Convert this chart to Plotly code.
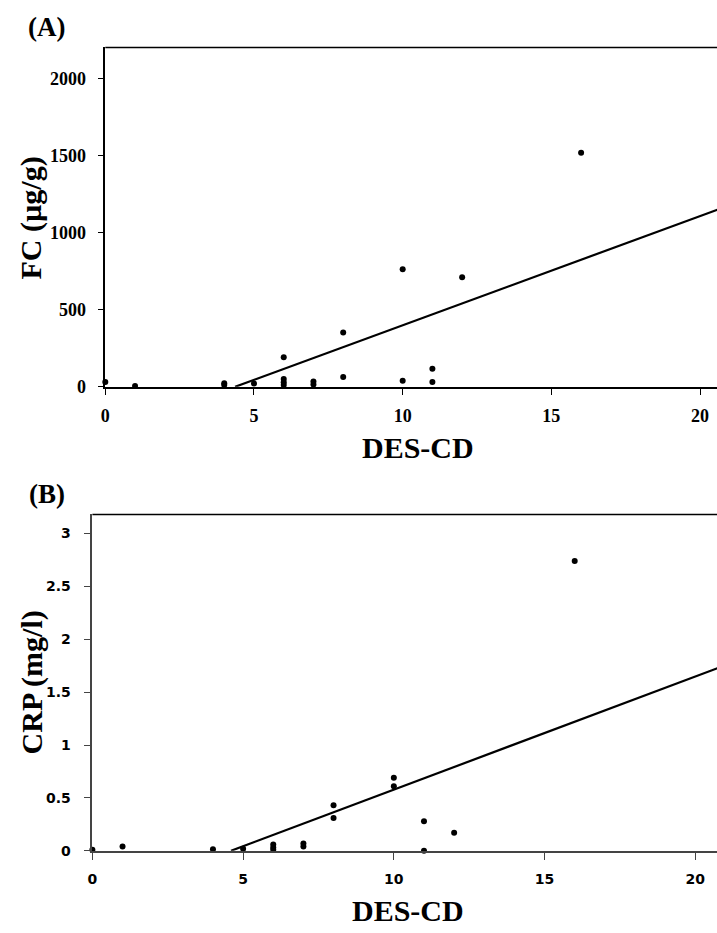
import plotly.graph_objects as go

# Panel A: DES-CD vs FC (µg/g)
a_x = [0, 1, 4, 4, 5, 6, 6, 6, 6, 7, 7, 8, 8, 10, 10, 11, 11, 12, 16]
a_y = [32, 5, 23, 12, 22, 192, 50, 30, 12, 35, 15, 352, 64, 763, 40, 117, 32, 711, 1517]
a_slope, a_intercept = 70.8, -309.0

# Panel B: DES-CD vs CRP (mg/l)
b_x = [0, 1, 4, 5, 6, 6, 6, 7, 7, 8, 8, 10, 10, 11, 11, 12, 16]
b_y = [0.01, 0.04, 0.015, 0.02, 0.06, 0.03, 0.01, 0.07, 0.04, 0.43, 0.31, 0.69, 0.61, 0.28, 0.0, 0.17, 2.74]
b_slope, b_intercept = 0.107, -0.492

a_yticks = [0, 500, 1000, 1500, 2000]
b_yticks = [0, 0.5, 1, 1.5, 2, 2.5, 3]
b_yticklabels = ["0", "0.5", "1", "1.5", "2", "2.5", "3"]
xticks = [0, 5, 10, 15, 20]

W, H = 717, 933
serif = "Liberation Serif"
sans = "DejaVu Sans"


def px(x):
    return x / W


def py(y):
    return (H - y) / H


fig = go.Figure()

# Panel A
fig.add_trace(go.Scatter(x=a_x, y=a_y, mode="markers", marker=dict(color="black", size=6),
                         cliponaxis=False, xaxis="x", yaxis="y", showlegend=False))
ax0 = -a_intercept / a_slope
ax1 = 20.7
fig.add_trace(go.Scatter(x=[ax0, ax1], y=[a_slope * ax0 + a_intercept, a_slope * ax1 + a_intercept],
                         mode="lines", line=dict(color="black", width=2.2),
                         xaxis="x", yaxis="y", showlegend=False))

# Panel B
fig.add_trace(go.Scatter(x=b_x, y=b_y, mode="markers", marker=dict(color="black", size=6),
                         cliponaxis=False, xaxis="x2", yaxis="y2", showlegend=False))
bx0 = -b_intercept / b_slope
bx1 = 20.8
fig.add_trace(go.Scatter(x=[bx0, bx1], y=[b_slope * bx0 + b_intercept, b_slope * bx1 + b_intercept],
                         mode="lines", line=dict(color="black", width=2.2),
                         xaxis="x2", yaxis="y2", showlegend=False))

tickA = dict(family=serif, size=18, color="black")
tickB = dict(family=sans, size=14, color="black")
title_font = dict(family=serif, size=30, color="black")

fig.update_layout(
    width=W, height=H,
    margin=dict(l=0, r=0, t=0, b=0),
    paper_bgcolor="white", plot_bgcolor="white",
    xaxis=dict(domain=[px(101), 1], range=[0, 20.57], tickvals=xticks,
               ticktext=[f"<b>{v}</b>" for v in xticks], tickfont=tickA,
               showline=True, linecolor="black", linewidth=1.5, ticks="outside",
               ticklen=6, tickcolor="black", ticklabelstandoff=6,
               showgrid=False, zeroline=False, anchor="y"),
    yaxis=dict(domain=[py(391), py(48)], range=[0, 2200], tickvals=a_yticks,
               ticktext=[f"<b>{v}</b>" for v in a_yticks], tickfont=tickA,
               showline=True, linecolor="black", linewidth=1.5, ticks="outside",
               ticklen=6, tickcolor="black", ticklabelstandoff=8,
               showgrid=False, zeroline=False, anchor="x"),
    xaxis2=dict(domain=[px(88), 1], range=[0, 20.72], tickvals=xticks,
                ticktext=[f"<b>{v}</b>" for v in xticks], tickfont=tickB,
                showline=True, linecolor="#444444", linewidth=1.5, ticks="outside",
                ticklen=7, tickcolor="#444444", ticklabelstandoff=8,
                showgrid=False, zeroline=False, anchor="y2"),
    yaxis2=dict(domain=[py(860), py(520)], range=[0, 3.18], tickvals=b_yticks,
                ticktext=[f"<b>{t}</b>" for t in b_yticklabels], tickfont=tickB,
                showline=True, linecolor="#444444", linewidth=1.5, ticks="outside",
                ticklen=7, tickcolor="#444444", ticklabelstandoff=10,
                showgrid=False, zeroline=False, anchor="x2"),
    shapes=[
        dict(type="line", xref="x domain", yref="y domain", x0=0, x1=1, y0=1, y1=1,
             line=dict(color="black", width=1.5)),
        dict(type="line", xref="x2 domain", yref="y2 domain", x0=0, x1=1, y0=1, y1=1,
             line=dict(color="black", width=1.5)),
    ],
    annotations=[
        dict(text="<b>(A)</b>", xref="paper", yref="paper", x=px(42), y=py(27),
             xanchor="center", yanchor="middle", showarrow=False,
             font=dict(family=serif, size=27, color="black")),
        dict(text="<b>(B)</b>", xref="paper", yref="paper", x=px(42), y=py(499),
             xanchor="center", yanchor="middle", showarrow=False,
             font=dict(family=serif, size=27, color="black")),
        dict(text="<b>FC (µg/g)</b>", xref="paper", yref="paper", x=px(26), y=py(220),
             xanchor="center", yanchor="middle", textangle=-90, showarrow=False,
             font=title_font),
        dict(text="<b>CRP (mg/l)</b>", xref="paper", yref="paper", x=px(27), y=py(690),
             xanchor="center", yanchor="middle", textangle=-90, showarrow=False,
             font=title_font),
        dict(text="<b>DES-CD</b>", xref="paper", yref="paper", x=px(416), y=py(452),
             xanchor="center", yanchor="middle", showarrow=False, font=title_font),
        dict(text="<b>DES-CD</b>", xref="paper", yref="paper", x=px(406), y=py(920),
             xanchor="center", yanchor="middle", showarrow=False, font=title_font),
    ],
)

fig.write_html("out.html", config={"displayModeBar": False},
               post_script="document.body.style.margin='0';document.body.style.overflow='hidden';")
